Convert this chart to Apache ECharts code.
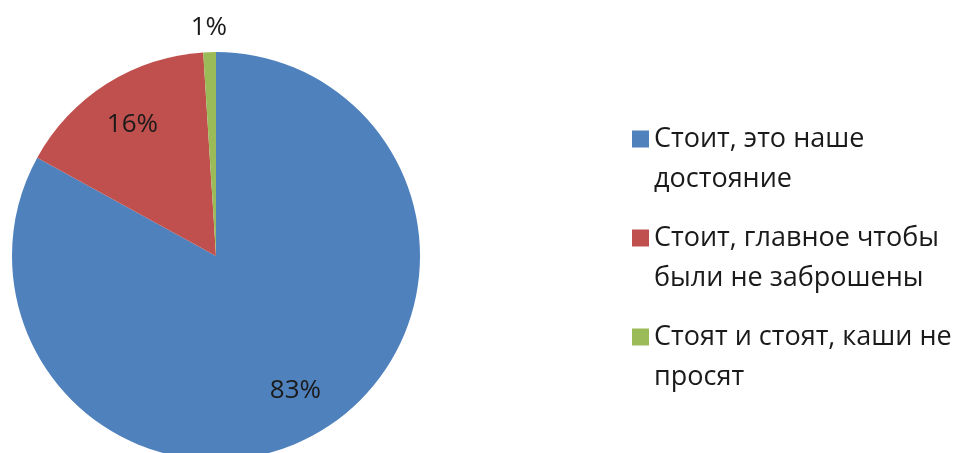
<!DOCTYPE html>
<html><head><meta charset="utf-8">
<script src="https://cdn.jsdelivr.net/npm/echarts@6/dist/echarts.min.js"></script>
<style>html,body{margin:0;padding:0;background:#fff}#c{width:961px;height:453px}</style>
</head><body><div id="c"></div>
<script>
const categories = ['Стоит, это наше\nдостояние', 'Стоит, главное чтобы\nбыли не заброшены', 'Стоят и стоят, каши не\nпросят'];
const values = [83, 16, 1];
const colors = ['#4F81BD', '#C0504D', '#9BBB59'];
const FONT = 'Open Sans';
const chart = echarts.init(document.getElementById('c'));
const data = categories.map((n, i) => ({ name: n, value: values[i], itemStyle: { color: colors[i] } }));
const labelData = (showFn) => categories.map((n, i) => ({
  name: n, value: values[i],
  itemStyle: { color: 'rgba(0,0,0,0)' },
  label: { show: showFn(i) }
}));
const labelCommon = {
  position: 'inside', formatter: '{c}%', color: '#1a1a1a',
  fontFamily: FONT, fontSize: 26
};
chart.setOption({
  animation: false,
  legend: {
    orient: 'vertical', left: 627, top: 74,
    itemWidth: 17, itemHeight: 17, itemGap: -21,
    icon: 'rect',
    data: categories,
    formatter: name => '\n' + name,
    textStyle: { fontFamily: FONT, fontSize: 27, color: '#1a1a1a', lineHeight: 40 }
  },
  series: [
    {
      type: 'pie', center: [216, 256], radius: 204, startAngle: 90, clockwise: true,
      label: { show: false }, labelLine: { show: false }, silent: true, data: data
    },
    {
      type: 'pie', center: [216, 256], radius: [0, 306], startAngle: 90, clockwise: true,
      silent: true, labelLine: { show: false }, label: labelCommon,
      data: labelData(i => i < 2)
    },
    {
      type: 'pie', center: [216, 256], radius: [0, 452], startAngle: 90, clockwise: true,
      silent: true, labelLine: { show: false }, label: labelCommon,
      data: labelData(i => i === 2)
    }
  ]
});
</script></body></html>
